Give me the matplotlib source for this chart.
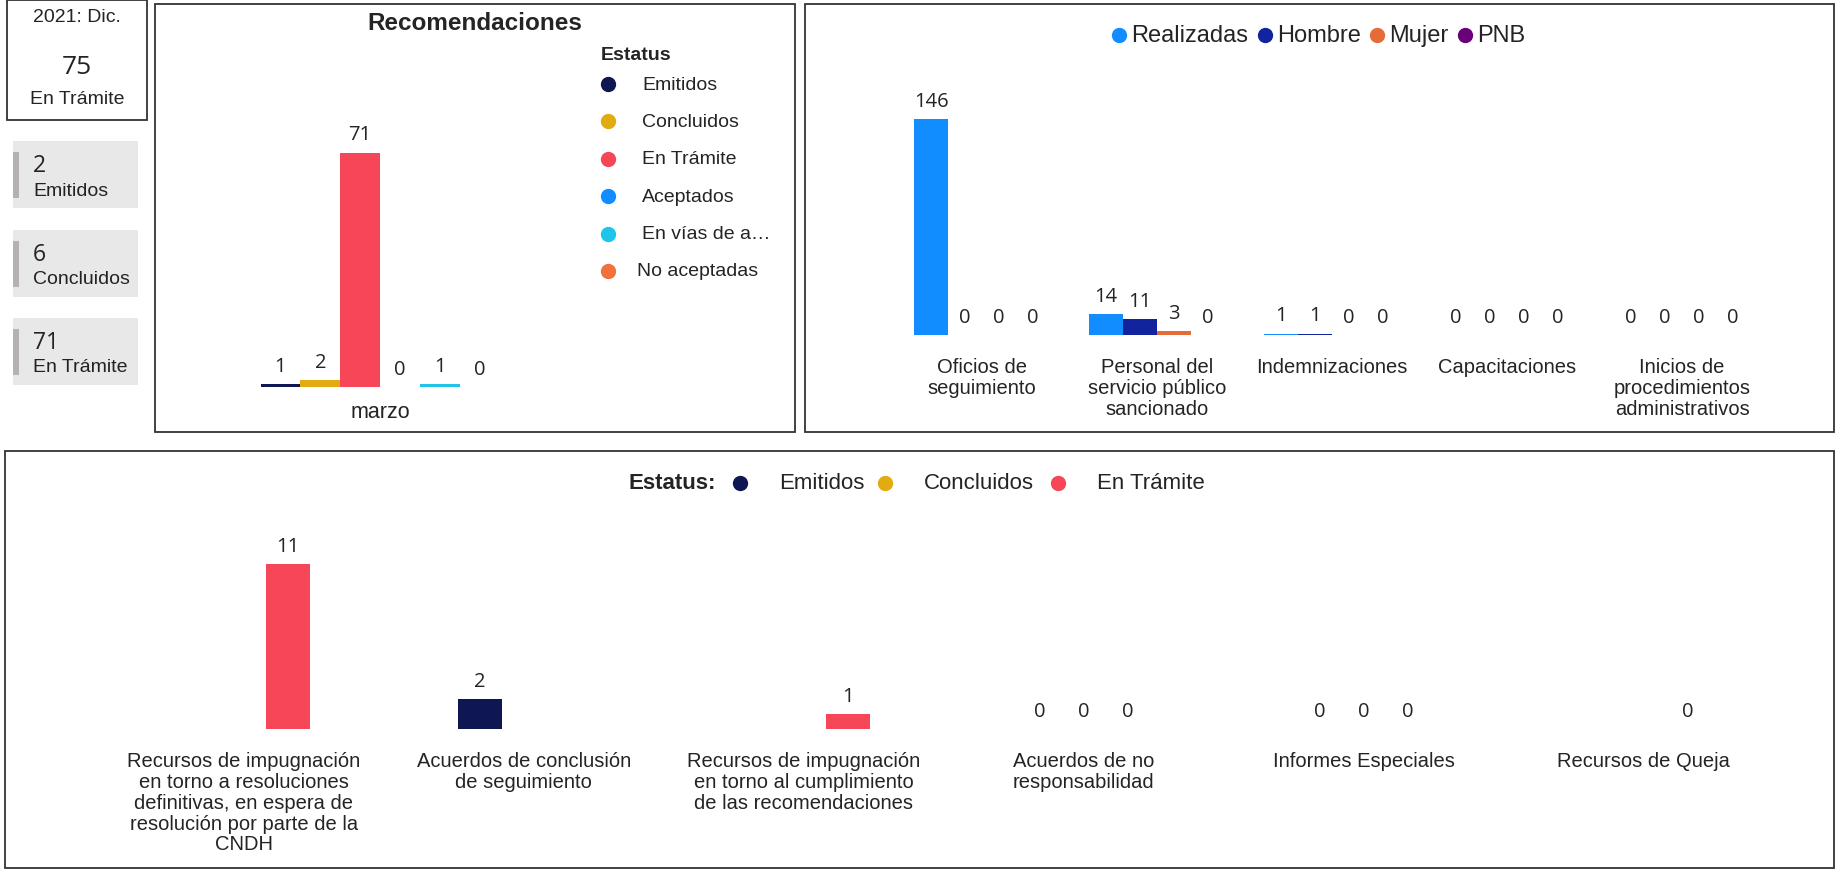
import matplotlib
matplotlib.use("Agg")
import matplotlib.pyplot as plt
import numpy as np
from matplotlib.patches import Rectangle
from matplotlib.lines import Line2D

# ---------------- data ----------------
kpi_header = ["2021: Dic.", "75", "En Trámite"]
card_values = ["2", "6", "71"]
card_labels = ["Emitidos", "Concluidos", "En Trámite"]

rec_title = "Recomendaciones"
rec_category = ["marzo"]
rec_status = ["Emitidos", "Concluidos", "En Trámite", "Aceptados", "En vías de a…", "No aceptadas"]
rec_values = [1, 2, 71, 0, 1, 0]
rec_colors = ["#0E1752", "#E2AC10", "#F64657", "#118DFF", "#1FC4E9", "#F2703A"]

seg_categories = ["Oficios de\nseguimiento", "Personal del\nservicio público\nsancionado",
                  "Indemnizaciones", "Capacitaciones",
                  "Inicios de\nprocedimientos\nadministrativos"]
seg_series = ["Realizadas", "Hombre", "Mujer", "PNB"]
seg_realizadas = [146, 14, 1, 0, 0]
seg_hombre = [0, 11, 1, 0, 0]
seg_mujer = [0, 3, 0, 0, 0]
seg_pnb = [0, 0, 0, 0, 0]
seg_colors = ["#118DFF", "#12239E", "#E66C37", "#6B007B"]

bot_categories = ["Recursos de impugnación\nen torno a resoluciones\ndefinitivas, en espera de\nresolución por parte de la\nCNDH",
                  "Acuerdos de conclusión\nde seguimiento",
                  "Recursos de impugnación\nen torno al cumplimiento\nde las recomendaciones",
                  "Acuerdos de no\nresponsabilidad",
                  "Informes Especiales",
                  "Recursos de Queja"]
bot_series = ["Emitidos", "Concluidos", "En Trámite"]
bot_emitidos = [np.nan, 2, np.nan, 0, 0, np.nan]
bot_concluidos = [np.nan, np.nan, np.nan, 0, 0, np.nan]
bot_tramite = [11, np.nan, 1, 0, 0, 0]
bot_colors = ["#0E1752", "#E2AC10", "#F64657"]

# ---------------- layout helpers ----------------
W, H = 1837, 870
fig = plt.figure(figsize=(W / 100, H / 100), dpi=100)
fig.patch.set_facecolor("white")
TXT = "Liberation Sans"
NUM = "Open Sans"
INK = "#252423"


def fx(x):
    return x / W


def fy(y):
    return 1 - y / H


def rect_px(x0, y0, x1, y1, **kw):
    fig.add_artist(Rectangle((fx(x0), fy(y1)), (x1 - x0) / W, (y1 - y0) / H,
                             transform=fig.transFigure, **kw))


def axes_px(x0, y0, x1, y1):
    ax = fig.add_axes([fx(x0), fy(y1), (x1 - x0) / W, (y1 - y0) / H])
    ax.set_facecolor("none")
    for s in ax.spines.values():
        s.set_visible(False)
    ax.set_yticks([])
    ax.tick_params(axis="x", length=0)
    return ax


def ftext(x, y, s, **kw):
    fig.text(fx(x), fy(y), s, **kw)


def dot(x, y, c, ms=10):
    fig.add_artist(Line2D([fx(x)], [fy(y)], marker="o", markersize=ms,
                          color=c, transform=fig.transFigure, linestyle="none"))


# ---------------- left KPI boxes ----------------
rect_px(7, 1, 147, 121, facecolor="white", edgecolor="#333333", lw=1.3)
ftext(77, 17, kpi_header[0], ha="center", va="center", fontsize=14, family=TXT, color=INK)
ftext(77, 68, kpi_header[1], ha="center", va="center", fontsize=19, family=NUM, color=INK)
ftext(77, 99, kpi_header[2], ha="center", va="center", fontsize=14, family=TXT, color=INK)

card_tops = [142, 231, 319]
for i, (v, lab) in enumerate(zip(card_values, card_labels)):
    t = card_tops[i]
    rect_px(13, t, 138, t + 67, facecolor="#E8E8E8", edgecolor="none")
    rect_px(13, t + 11, 19, t + 57, facecolor="#B5B1B1", edgecolor="none")
    ftext(33, t + 24, v, ha="left", va="center", fontsize=16.5, family=NUM, color="#222222")
    ftext(33, t + 49, lab, ha="left", va="center", fontsize=14, family=TXT, color="#222222")

# ---------------- panel borders ----------------
rect_px(155, 5, 795, 433, facecolor="none", edgecolor="#333333", lw=1.3)
rect_px(805, 5, 1834, 433, facecolor="none", edgecolor="#333333", lw=1.3)
rect_px(5, 452, 1834, 869, facecolor="none", edgecolor="#333333", lw=1.3)

# ---------------- Recomendaciones ----------------
ax1 = axes_px(160, 100, 600, 388)
nb = len(rec_values)
bw = 0.0905
xs = np.arange(nb) * bw - (nb - 1) * bw / 2
ax1.bar(xs, rec_values, width=bw, color=rec_colors)
ax1.set_xlim(-0.5, 0.5)
ax1.set_ylim(0, 288 / ((388 - 153.5) / 71))
for x, v in zip(xs, rec_values):
    ax1.annotate(str(v), (x, v), xytext=(0, 13), textcoords="offset points",
                 ha="center", va="center", fontsize=14.5, family=NUM, color=INK)
ax1.set_xticks([0])
ax1.set_xticklabels(rec_category, fontsize=15.5, family=TXT, color=INK)
ax1.tick_params(axis="x", pad=10)

ftext(475, 23, rec_title, ha="center", va="center", fontsize=17.5, weight="bold",
      family=TXT, color=INK)
ftext(601, 55, "Estatus", ha="left", va="center", fontsize=14, weight="bold",
      family=TXT, color=INK)
leg_y0 = 85
for i, (lab, c) in enumerate(zip(rec_status, rec_colors)):
    yy = leg_y0 + i * 37.4
    dot(608, yy, c, 10)
    tx = 637 if i == len(rec_status) - 1 else 642
    ftext(tx, yy, lab, ha="left", va="center", fontsize=14, family=TXT, color=INK)

# ---------------- seguimiento panel ----------------
ax2 = axes_px(894.5, 80, 1769.5, 336)
nc = len(seg_categories)
ppu = (336 - 120) / 146
ax2.set_xlim(-0.5, nc - 0.5)
ax2.set_ylim(0, 256 / ppu)
sw = 34 / 175
series2 = [seg_realizadas, seg_hombre, seg_mujer, seg_pnb]
for j, (vals, c) in enumerate(zip(series2, seg_colors)):
    xx = np.arange(nc) + (j - 1.5) * sw
    ax2.bar(xx, vals, width=sw, color=c)
    for x, v in zip(xx, vals):
        ax2.annotate(str(v), (x, v), xytext=(0, 13), textcoords="offset points",
                     ha="center", va="center", fontsize=14.5, family=NUM, color=INK)
ax2.set_xticks(np.arange(nc))
ax2.set_xticklabels(seg_categories, fontsize=14.5, family=TXT, color=INK,
                    linespacing=1.12)
ax2.tick_params(axis="x", pad=16)

leg2_x = [1119, 1265, 1377, 1465]
for lab, c, x in zip(seg_series, seg_colors, leg2_x):
    dot(x, 36, c, 10)
    ftext(x + 12, 36, lab, ha="left", va="center", fontsize=17, family=TXT, color=INK)

# ---------------- bottom panel ----------------
ax3 = axes_px(103.7, 500, 1783.7, 730)
nb3 = len(bot_categories)
ppu3 = (730 - 565) / 11
ax3.set_xlim(-0.5, nb3 - 0.5)
ax3.set_ylim(0, 230 / ppu3)
bw3 = 44 / 280
series3 = [bot_emitidos, bot_concluidos, bot_tramite]
for j, (vals, c) in enumerate(zip(series3, bot_colors)):
    xx = np.arange(nb3) + (j - 1) * bw3
    arr = np.array(vals, dtype=float)
    ax3.bar(xx, np.nan_to_num(arr), width=bw3, color=c)
    for x, v in zip(xx, arr):
        if not np.isnan(v):
            ax3.annotate(str(int(v)), (x, v), xytext=(0, 13), textcoords="offset points",
                         ha="center", va="center", fontsize=14.5, family=NUM, color=INK)
ax3.set_xticks(np.arange(nb3))
ax3.set_xticklabels(bot_categories, fontsize=14.5, family=TXT, color=INK,
                    linespacing=1.12)
ax3.tick_params(axis="x", pad=16)

ftext(629, 484, "Estatus:", ha="left", va="center", fontsize=16, weight="bold",
      family=TXT, color=INK)
leg3_x = [740, 885, 1058]
for lab, c, x in zip(bot_series, bot_colors, leg3_x):
    dot(x, 484, c, 10)
    ftext(x + 39, 484, lab, ha="left", va="center", fontsize=16, family=TXT, color=INK)

fig.savefig("out.png", dpi=100, facecolor="white")
